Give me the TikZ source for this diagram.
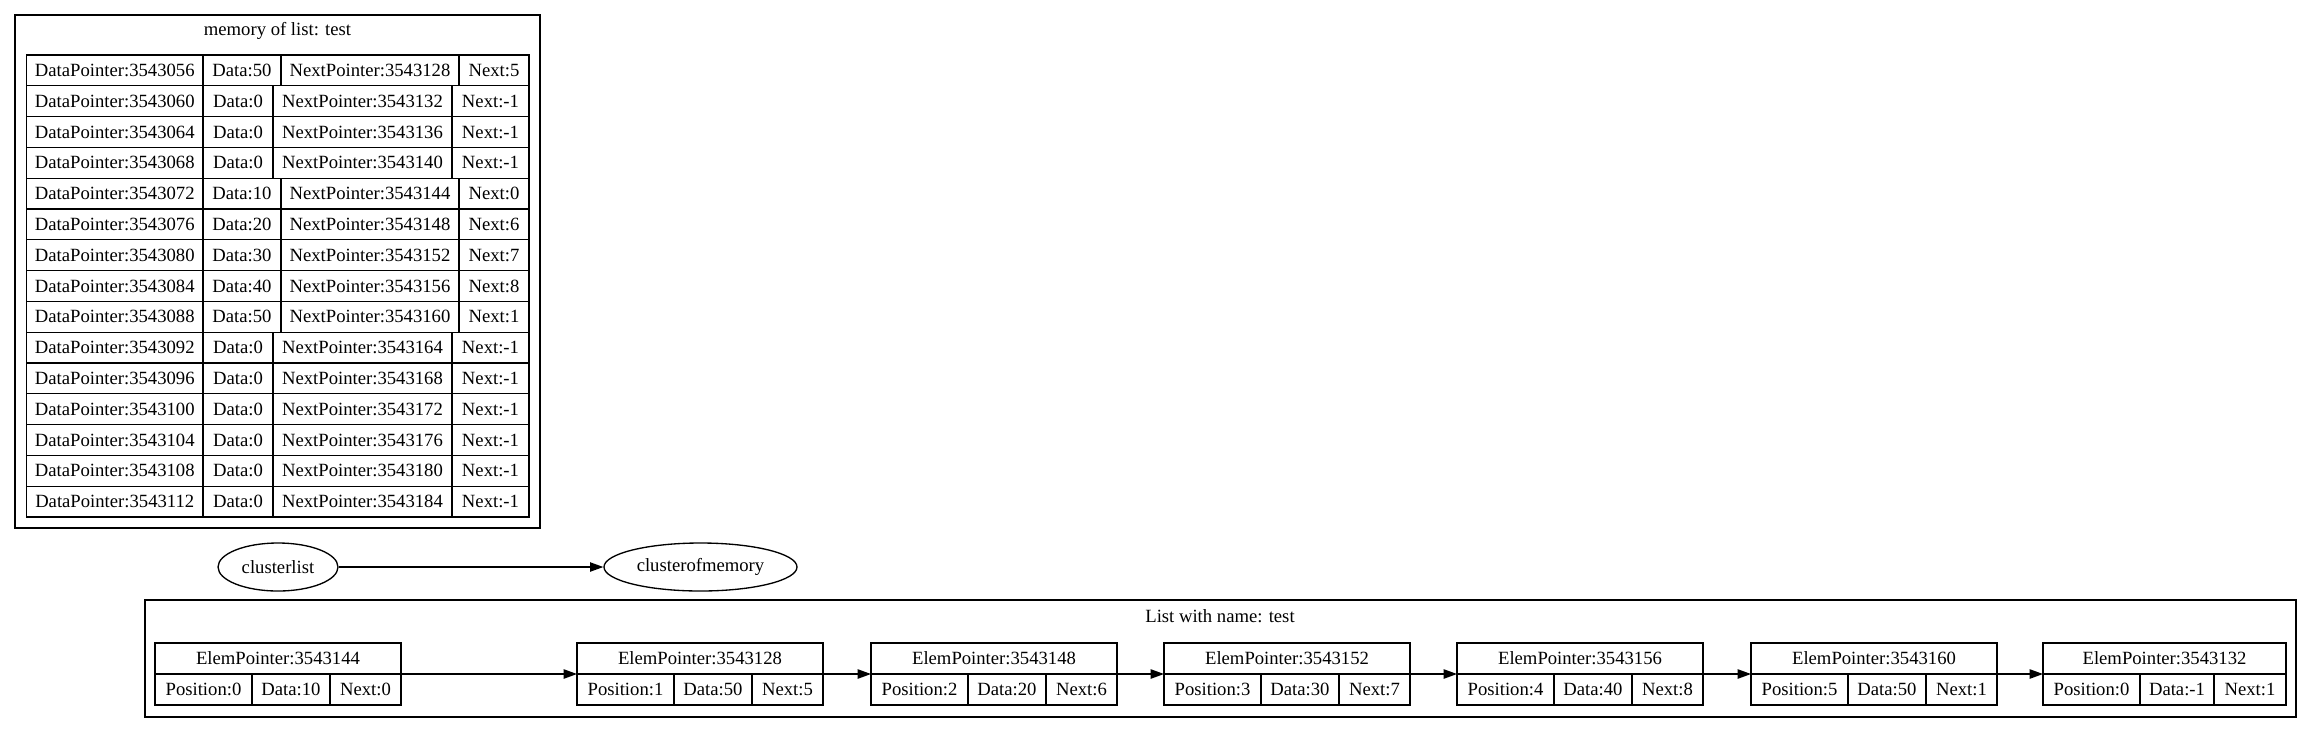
\documentclass[tikz,border=0pt]{standalone}
\usepackage{fontspec}
\setmainfont{Liberation Serif}
\usetikzlibrary{arrows.meta,shapes.geometric}
\begin{document}
\begin{tikzpicture}[x=0.75pt,y=-0.75pt,
  txt/.style={font=\fontsize{14}{16}\selectfont},
  cell/.style={txt, draw, line width=1pt, inner sep=0pt, outer sep=0pt, anchor=north west},
  clusterbox/.style={draw, line width=1pt, inner sep=0pt, outer sep=0pt, anchor=north west},
  oval/.style={txt, draw, ellipse, line width=1pt, inner sep=0pt},
  arr/.style={line width=1pt, -{Triangle[length=10pt, width=7pt]}}]
\useasboundingbox (0,0) rectangle (2312,733);

% memory cluster
\node[clusterbox, minimum width=525*0.75pt, minimum height=513*0.75pt] (memcluster) at (15,15) {};
\node[txt] (memtitle) at (277.5,31) {memory of list: test};

\foreach \dpv/\dv/\npv/\nv/\bx/\cx/\ex [count=\i] in {
 3543056/50/3543128/5/203/281/459,
 3543060/0/3543132/-1/203/273/452,
 3543064/0/3543136/-1/203/273/452,
 3543068/0/3543140/-1/203/273/452,
 3543072/10/3543144/0/203/281/459,
 3543076/20/3543148/6/203/281/459,
 3543080/30/3543152/7/203/281/459,
 3543084/40/3543156/8/203/281/459,
 3543088/50/3543160/1/203/281/459,
 3543092/0/3543164/-1/203/273/452,
 3543096/0/3543168/-1/203/273/452,
 3543100/0/3543172/-1/203/273/452,
 3543104/0/3543176/-1/203/273/452,
 3543108/0/3543180/-1/203/273/452,
 3543112/0/3543184/-1/203/273/452}
{
  \pgfmathsetmacro\yy{55+(\i-1)*30.8}
  \node[cell, minimum height=30.8*0.75pt, minimum width={(\bx-26.5)*0.75pt}] (m\i a) at (26.5,\yy) {DataPointer:\dpv};
  \node[cell, minimum height=30.8*0.75pt, minimum width={(\cx-\bx)*0.75pt}] (m\i b) at (\bx,\yy) {Data:\dv};
  \node[cell, minimum height=30.8*0.75pt, minimum width={(\ex-\cx)*0.75pt}] (m\i c) at (\cx,\yy) {NextPointer:\npv};
  \node[cell, minimum height=30.8*0.75pt, minimum width={(529-\ex)*0.75pt}] (m\i d) at (\ex,\yy) {Next:\nv};
}

% ellipses
\node[oval, minimum width=120*0.75pt, minimum height=48*0.75pt] (clusterlist) at (278,567) {clusterlist};
\node[oval, minimum width=193*0.75pt, minimum height=48*0.75pt] (clusterofmemory) at (700.5,567) {clusterofmemory};
\draw[arr] (clusterlist) -- (clusterofmemory);

% list cluster
\node[clusterbox, minimum width=2151*0.75pt, minimum height=117*0.75pt] (listcluster) at (145,600) {};
\node[txt] (listtitle) at (1220,616) {List with name: test};

\foreach \x/\ep/\pv/\dv/\nv/\wa/\wb/\wc [count=\i] in {
 155/3543144/0/10/0/97/78/71,
 577/3543128/1/50/5/97/78/71,
 871/3543148/2/20/6/97/78/71,
 1164/3543152/3/30/7/97/78/71,
 1457/3543156/4/40/8/97/78/71,
 1751/3543160/5/50/1/97/78/71,
 2043/3543132/0/-1/1/97/74/72}
{
  \node[cell, minimum height=31*0.75pt, minimum width={(\wa+\wb+\wc)*0.75pt}] (e\i h) at (\x,643) {ElemPointer:\ep};
  \node[cell, minimum height=31*0.75pt, minimum width={\wa*0.75pt}] (e\i p) at (\x,674) {Position:\pv};
  \node[cell, minimum height=31*0.75pt, minimum width={\wb*0.75pt}] (e\i d) at (\x+\wa,674) {Data:\dv};
  \node[cell, minimum height=31*0.75pt, minimum width={\wc*0.75pt}] (e\i n) at (\x+\wa+\wb,674) {Next:\nv};
}
\foreach \a/\b in {1/2,2/3,3/4,4/5,5/6,6/7}
  \draw[arr] (e\a h.south east) -- (e\b h.south west);
\end{tikzpicture}
\end{document}
